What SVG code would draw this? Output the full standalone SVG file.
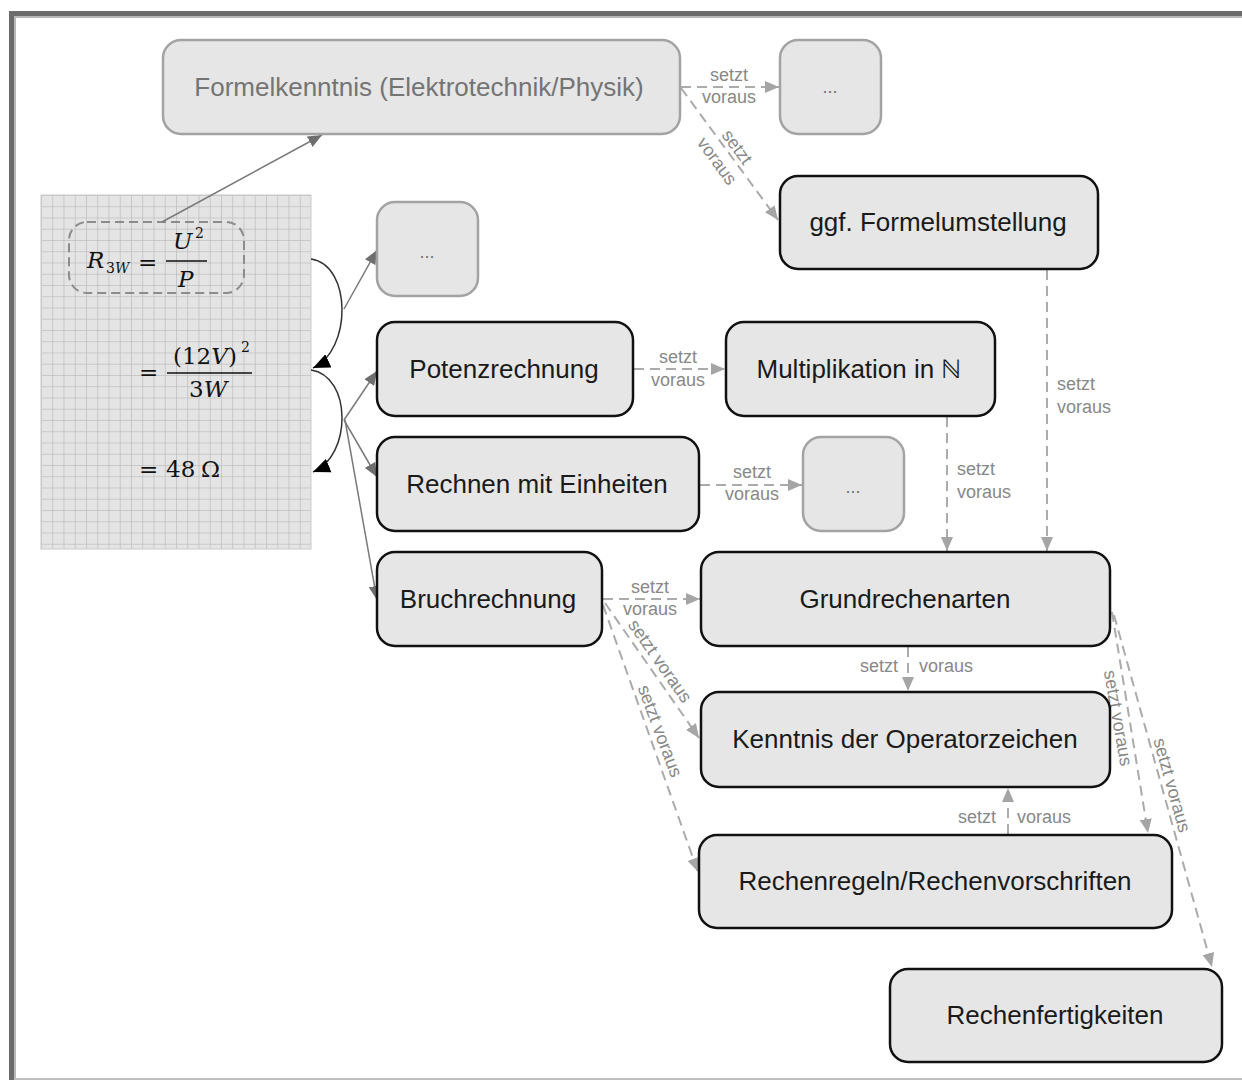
<svg xmlns="http://www.w3.org/2000/svg" width="1242" height="1080" viewBox="0 0 1242 1080">
  <defs>
    <style>
      .box { fill: #e6e6e6; stroke: #111; stroke-width: 2.5; }
      .box-muted { fill: #e6e6e6; stroke: #a3a3a3; stroke-width: 2.5; }
      .txt { font-family: "Liberation Sans", Arial, sans-serif; font-size: 26px; fill: #1a1a1a; text-anchor: middle; }
      .txt-muted { font-family: "Liberation Sans", Arial, sans-serif; font-size: 26px; fill: #747474; text-anchor: middle; }
      .dots { font-family: "Liberation Sans", Arial, sans-serif; font-size: 18px; fill: #747474; text-anchor: middle; }
      .dep { fill: none; stroke: #ababab; stroke-width: 2; stroke-dasharray: 10 6; }
      .link { fill: none; stroke: #7a7a7a; stroke-width: 1.5; }
      .step { fill: none; stroke: #333; stroke-width: 1.5; }
      .lbl { font-family: "Liberation Sans", Arial, sans-serif; font-size: 18px; fill: #888; }
      .math { font-family: "DejaVu Serif", "Liberation Serif", serif; fill: #111; font-size: 23px; }
      .it { font-style: italic; }
      .sup { font-size: 14px; }
    </style>
    <marker id="ah-dep" viewBox="0 0 14 12" refX="14" refY="6" markerWidth="14" markerHeight="12" markerUnits="userSpaceOnUse" orient="auto">
      <path d="M0,0 L14,6 L0,12 Z" fill="#a5a5a5"/>
    </marker>
    <marker id="ah-link" viewBox="0 0 14 12" refX="14" refY="6" markerWidth="14" markerHeight="12" markerUnits="userSpaceOnUse" orient="auto">
      <path d="M0,0 L14,6 L0,12 Z" fill="#6e6e6e"/>
    </marker>
    <marker id="ah-step" viewBox="0 0 14 12" refX="14" refY="6" markerWidth="17" markerHeight="15" markerUnits="userSpaceOnUse" orient="auto">
      <path d="M0,0 L14,6 L0,12 Z" fill="#000"/>
    </marker>
    <pattern id="grid" x="41" y="195" width="11.25" height="11.25" patternUnits="userSpaceOnUse">
      <rect width="11.25" height="11.25" fill="#e4e4e4"/>
      <path d="M0,0 H11.25 M0,0 V11.25" stroke="#bfbfbf" stroke-width="1.5" fill="none"/>
    </pattern>
  </defs>

  <!-- page frame -->
  <rect width="1242" height="1080" fill="#fff"/>
  <rect x="11.5" y="13.5" width="1300" height="1100" fill="none" stroke="#6c6c6c" stroke-width="5"/>
  <path d="M15,1080 V17 H1242" fill="none" stroke="#b8b8b8" stroke-width="2"/>
  <path d="M14,1079 H1242" fill="none" stroke="#bdbdbd" stroke-width="2"/>

  <!-- worked calculation on squared paper -->
  <g id="calculation">
    <rect x="41" y="195" width="270" height="354" fill="url(#grid)" stroke="#cacaca" stroke-width="1"/>
    <rect x="69" y="222" width="175" height="71" rx="18" fill="none" stroke="#8c8c8c" stroke-width="2" stroke-dasharray="9 5"/>
    <!-- R_3W = U^2 / P -->
    <text class="math it" x="87" y="268">R</text>
    <text class="math sup" x="106" y="273">3<tspan class="it">W</tspan></text>
    <text class="math" x="138" y="270">=</text>
    <text class="math it" x="173" y="249">U</text>
    <text class="math sup" x="195" y="238">2</text>
    <line x1="166" y1="261" x2="207" y2="261" stroke="#111" stroke-width="1.4"/>
    <text class="math it" x="178" y="287">P</text>

    <!-- = (12V)^2 / 3W -->
    <text class="math" x="139" y="380">=</text>
    <text class="math" x="173" y="364">(12<tspan class="it">V</tspan>)</text>
    <text class="math sup" x="241" y="352">2</text>
    <line x1="167" y1="373" x2="252" y2="373" stroke="#111" stroke-width="1.4"/>
    <text class="math" x="189" y="397">3<tspan class="it">W</tspan></text>

    <!-- = 48 Ohm -->
    <text class="math" x="139" y="477">=</text>
    <text class="math" x="166" y="477">48</text>
    <text class="math" x="201" y="477">Ω</text>
  </g>

  <!-- connectors -->
  <g id="connectors">
    <!-- calculation steps -->
    <path class="step" d="M311,259 C352,265 352,350 313,368" marker-end="url(#ah-step)"/>
    <path class="step" d="M311,370 C352,376 352,456 313,472" marker-end="url(#ah-step)"/>
    <line class="link" x1="162" y1="222" x2="322" y2="135" marker-end="url(#ah-link)"/>
    <line class="link" x1="344" y1="309" x2="377" y2="250" marker-end="url(#ah-link)"/>
    <line class="link" x1="344" y1="420" x2="377" y2="371" marker-end="url(#ah-link)"/>
    <line class="link" x1="344" y1="420" x2="377" y2="477" marker-end="url(#ah-link)"/>
    <line class="link" x1="345" y1="420" x2="377" y2="600" marker-end="url(#ah-link)"/>

    <!-- prerequisite relations -->
    <line class="dep" x1="681" y1="87" x2="779" y2="87" marker-end="url(#ah-dep)"/>
    <text class="lbl" x="729" y="81" text-anchor="middle">setzt</text>
    <text class="lbl" x="729" y="103" text-anchor="middle">voraus</text>

    <line class="dep" x1="681" y1="88" x2="778" y2="220" marker-end="url(#ah-dep)"/>
    <text class="lbl" text-anchor="middle" dominant-baseline="central" transform="translate(737,147) rotate(53.7)">setzt</text>
    <text class="lbl" text-anchor="middle" dominant-baseline="central" transform="translate(717,161) rotate(53.7)">voraus</text>

    <line class="dep" x1="1047" y1="270" x2="1047" y2="551" marker-end="url(#ah-dep)"/>
    <text class="lbl" x="1057" y="390">setzt</text>
    <text class="lbl" x="1057" y="413">voraus</text>

    <line class="dep" x1="947" y1="417" x2="947" y2="551" marker-end="url(#ah-dep)"/>
    <text class="lbl" x="957" y="475">setzt</text>
    <text class="lbl" x="957" y="498">voraus</text>

    <line class="dep" x1="634" y1="369" x2="725" y2="369" marker-end="url(#ah-dep)"/>
    <text class="lbl" x="678" y="363" text-anchor="middle">setzt</text>
    <text class="lbl" x="678" y="386" text-anchor="middle">voraus</text>

    <line class="dep" x1="700" y1="485" x2="802" y2="485" marker-end="url(#ah-dep)"/>
    <text class="lbl" x="752" y="478" text-anchor="middle">setzt</text>
    <text class="lbl" x="752" y="500" text-anchor="middle">voraus</text>

    <line class="dep" x1="603" y1="599" x2="700" y2="599" marker-end="url(#ah-dep)"/>
    <text class="lbl" x="650" y="593" text-anchor="middle">setzt</text>
    <text class="lbl" x="650" y="615" text-anchor="middle">voraus</text>

    <line class="dep" x1="605" y1="603" x2="699" y2="738" marker-end="url(#ah-dep)"/>
    <text class="lbl" text-anchor="middle" dominant-baseline="central" transform="translate(660,661) rotate(55)">setzt voraus</text>

    <line class="dep" x1="603" y1="605" x2="698" y2="872" marker-end="url(#ah-dep)"/>
    <text class="lbl" text-anchor="middle" dominant-baseline="central" transform="translate(660,731) rotate(69.5)">setzt voraus</text>

    <line class="dep" x1="908" y1="647" x2="908" y2="691" marker-end="url(#ah-dep)"/>
    <text class="lbl" x="898" y="672" text-anchor="end">setzt</text>
    <text class="lbl" x="919" y="672">voraus</text>

    <line class="dep" x1="1008" y1="834" x2="1008" y2="788" marker-end="url(#ah-dep)"/>
    <text class="lbl" x="996" y="823" text-anchor="end">setzt</text>
    <text class="lbl" x="1017" y="823">voraus</text>

    <line class="dep" x1="1112" y1="612" x2="1148" y2="833" marker-end="url(#ah-dep)"/>
    <text class="lbl" text-anchor="middle" dominant-baseline="central" transform="translate(1118,718) rotate(80)">setzt voraus</text>

    <line class="dep" x1="1114" y1="615" x2="1212" y2="967" marker-end="url(#ah-dep)"/>
    <text class="lbl" text-anchor="middle" dominant-baseline="central" transform="translate(1172,785) rotate(74.4)">setzt voraus</text>
  </g>

  <!-- nodes -->
  <g id="formelkenntnis">
    <rect class="box-muted" x="163" y="40" width="517" height="94" rx="18"/>
    <text class="txt-muted" x="419" y="96">Formelkenntnis (Elektrotechnik/Physik)</text>
  </g>
  <g id="more-formeln">
    <rect class="box-muted" x="780" y="40" width="101" height="94" rx="18"/>
    <text class="dots" x="830" y="93">...</text>
  </g>
  <g id="formelumstellung">
    <rect class="box" x="780" y="176" width="318" height="93" rx="18"/>
    <text class="txt" x="938" y="231">ggf. Formelumstellung</text>
  </g>
  <g id="more-rechnen">
    <rect class="box-muted" x="377" y="202" width="101" height="94" rx="18"/>
    <text class="dots" x="427" y="258">...</text>
  </g>
  <g id="potenzrechnung">
    <rect class="box" x="377" y="322" width="256" height="94" rx="18"/>
    <text class="txt" x="504" y="378">Potenzrechnung</text>
  </g>
  <g id="multiplikation">
    <rect class="box" x="726" y="322" width="269" height="94" rx="18"/>
    <text class="txt" x="859" y="378">Multiplikation in ℕ</text>
  </g>
  <g id="einheiten">
    <rect class="box" x="377" y="437" width="322" height="94" rx="18"/>
    <text class="txt" x="537" y="493">Rechnen mit Einheiten</text>
  </g>
  <g id="more-einheiten">
    <rect class="box-muted" x="803" y="437" width="101" height="94" rx="18"/>
    <text class="dots" x="853" y="493">...</text>
  </g>
  <g id="bruchrechnung">
    <rect class="box" x="377" y="552" width="225" height="94" rx="18"/>
    <text class="txt" x="488" y="608">Bruchrechnung</text>
  </g>
  <g id="grundrechenarten">
    <rect class="box" x="701" y="552" width="409" height="94" rx="18"/>
    <text class="txt" x="905" y="608">Grundrechenarten</text>
  </g>
  <g id="operatorzeichen">
    <rect class="box" x="701" y="692" width="409" height="95" rx="18"/>
    <text class="txt" x="905" y="748">Kenntnis der Operatorzeichen</text>
  </g>
  <g id="rechenregeln">
    <rect class="box" x="699" y="835" width="473" height="93" rx="18"/>
    <text class="txt" x="935" y="890">Rechenregeln/Rechenvorschriften</text>
  </g>
  <g id="rechenfertigkeiten">
    <rect class="box" x="890" y="969" width="332" height="93" rx="18"/>
    <text class="txt" x="1055" y="1024">Rechenfertigkeiten</text>
  </g>
</svg>
